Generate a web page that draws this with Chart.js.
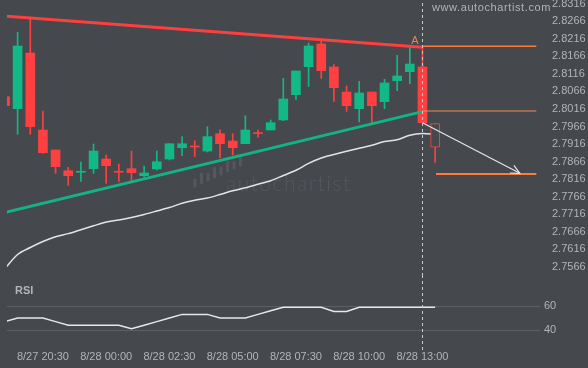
<!DOCTYPE html>
<html>
<head>
<meta charset="utf-8">
<script src="https://cdn.jsdelivr.net/npm/chart.js@4.4.1/dist/chart.umd.min.js"></script>
<style>
  html, body { margin: 0; padding: 0; background: #45484d; }
  #wrap { position: relative; width: 588px; height: 368px; overflow: hidden; }
  #main { position: absolute; left: 0; top: 0; }
  #rsi { position: absolute; left: 0; top: 275px; }
</style>
</head>
<body>
<div id="wrap">
  <canvas id="main" width="588" height="275"></canvas>
  <canvas id="rsi" width="588" height="93"></canvas>
</div>
<script>
// candles, one per bar index
const opens  = [2.8051, 2.80169, 2.81755, 2.79562, 2.78992, 2.78402, 2.78357, 2.78459, 2.78735, 2.78374, 2.78459, 2.7826, 2.78451, 2.78735, 2.79057, 2.79094, 2.78963, 2.79456, 2.79248, 2.79171, 2.79476, 2.79562, 2.79847, 2.80567, 2.81365, 2.82012, 2.81357, 2.80644, 2.80169, 2.80644, 2.80368, 2.80966, 2.81223, 2.81357];
const highs  = [2.8052, 2.82345, 2.82744, 2.80103, 2.78992, 2.78499, 2.7865, 2.79163, 2.78849, 2.78593, 2.78963, 2.78536, 2.78963, 2.79171, 2.79371, 2.79257, 2.79656, 2.7957, 2.79456, 2.79969, 2.79562, 2.79847, 2.81035, 2.81243, 2.8204, 2.82089, 2.81422, 2.80815, 2.80949, 2.80644, 2.81006, 2.8169, 2.81935, 2.81941];
const lows   = [2.8024, 2.79439, 2.79439, 2.78892, 2.78328, 2.77986, 2.781, 2.78328, 2.78043, 2.781, 2.78117, 2.78231, 2.78422, 2.78707, 2.7883, 2.78801, 2.78935, 2.78773, 2.78849, 2.79171, 2.79354, 2.79562, 2.79827, 2.80431, 2.80801, 2.81029, 2.80379, 2.80094, 2.7979, 2.7977, 2.80169, 2.80681, 2.80881, 2.7977];
const closes = [2.80254, 2.81955, 2.79656, 2.78915, 2.78516, 2.7826, 2.78374, 2.78963, 2.78545, 2.78357, 2.78345, 2.78337, 2.78659, 2.79171, 2.79171, 2.79077, 2.79371, 2.79171, 2.79057, 2.79562, 2.79459, 2.7977, 2.80445, 2.81243, 2.81955, 2.81251, 2.80767, 2.80254, 2.80616, 2.80254, 2.80901, 2.811, 2.81442, 2.7977];

// forecast candle [open, high, low, close]
const forecast = [2.79741, 2.79741, 2.78636, 2.79069];

const movingAvg = [2.75616, 2.76015, 2.76214, 2.76385, 2.76522, 2.7661, 2.76721, 2.76832, 2.76941, 2.76998, 2.77072, 2.77157, 2.77254, 2.77354, 2.77473, 2.77559, 2.77624, 2.77724, 2.7783, 2.77915, 2.78015, 2.78117, 2.78265, 2.78414, 2.7861, 2.78764, 2.78864, 2.78955, 2.7904, 2.79129, 2.79234, 2.79283, 2.79411, 2.79462, 2.79434];

const rsiValues = [47, 50, 50, 50, 47, 44, 44, 44, 44, 44, 41, 44, 47, 50, 53, 53, 53, 50, 50, 50, 53, 56, 59, 59, 59, 59, 55.5, 55.5, 59, 59, 59, 59, 59, 59, 59];

// pattern lines: [index, price]
const resistance = [[0, 2.82805], [33, 2.81918]];
const support    = [[0, 2.77211], [33, 2.80086]];
const levelTop    = [[33, 2.81946], [42, 2.81946]];
const levelBottom = [[33, 2.80103], [42, 2.80103]];
const target      = [[34.07, 2.78308], [42, 2.78308]];
const arrow       = [[33, 2.7977], [40.7, 2.78328]];
const pointA = [32.4, 2.82097];
const nowIndex = 33;

const priceTicks = [2.7566, 2.7616, 2.7666, 2.7716, 2.7766, 2.7816, 2.7866, 2.7916, 2.7966, 2.8016, 2.8066, 2.8116, 2.8166, 2.8216, 2.8266, 2.8316];
const rsiTicks = [40, 60];
const timeIndex  = [3, 8, 13, 18, 23, 28, 33];
const timeLabels = ['8/27 20:30', '8/28 00:00', '8/28 02:30', '8/28 05:00', '8/28 07:30', '8/28 10:00', '8/28 13:00'];

const bg = '#45484d';
const up = '#12b886';
const down = '#ff4040';
const textCol = '#b2b4b7';
const orange = '#ff7a3d';

Chart.defaults.font.family = '"Liberation Sans", Arial, sans-serif';
Chart.defaults.font.size = 11;

const xMin = 0.16, xMax = 42.29;
const pts = arr => arr.map(p => ({x: p[0], y: p[1]}));
const idx = opens.map((_, i) => i);
const candleCol = idx.map(i => closes[i] >= opens[i] ? up : down);

function lineSet(data, color, width, order) {
    return { type: 'line', data: pts(data), borderColor: color, borderWidth: width,
             pointRadius: 0, fill: false, clip: 0, order: order };
}

const nowLine = {
    id: 'nowLine',
    afterDatasetsDraw(chart, args, opts) {
        const ctx = chart.ctx;
        const x = Math.round(chart.scales.x.getPixelForValue(nowIndex)) + 0.5;
        ctx.save();
        ctx.strokeStyle = '#c8cacc';
        ctx.lineWidth = 1;
        ctx.setLineDash([3, 3]);
        ctx.beginPath();
        ctx.moveTo(x, opts.top);
        ctx.lineTo(x, chart.chartArea.bottom + opts.extra);
        ctx.stroke();
        ctx.restore();
    }
};

const decor = {
    id: 'decor',
    beforeDatasetsDraw(chart) {
        const ctx = chart.ctx;
        ctx.save();
        // watermark
        ctx.fillStyle = '#54575c';
        ctx.strokeStyle = '#54575c';
        ctx.lineWidth = 3;
        ctx.lineCap = 'round';
        for (let k = 0; k < 8; k++) {
            const bx = 195 + k * 6.5, by = 186 - k * 3;
            ctx.beginPath();
            ctx.moveTo(bx, by);
            ctx.lineTo(bx, by - 6 - (k % 2) * 3);
            ctx.stroke();
        }
        ctx.font = '300 21px Lato, "Open Sans", sans-serif';
        ctx.letterSpacing = '1.5px';
        ctx.textBaseline = 'alphabetic';
        ctx.fillText('autochartist', 226, 191);
        ctx.restore();
    },
    afterDatasetsDraw(chart) {
        const ctx = chart.ctx;
        const xs = chart.scales.x, ys = chart.scales.y;
        ctx.save();
        // arrow head
        const x1 = xs.getPixelForValue(arrow[0][0]), y1 = ys.getPixelForValue(arrow[0][1]);
        const x2 = xs.getPixelForValue(arrow[1][0]), y2 = ys.getPixelForValue(arrow[1][1]);
        const ang = Math.atan2(y2 - y1, x2 - x1);
        ctx.strokeStyle = '#e6e6e6';
        ctx.lineWidth = 1.2;
        ctx.beginPath();
        ctx.moveTo(x2 - 10 * Math.cos(ang - 0.45), y2 - 10 * Math.sin(ang - 0.45));
        ctx.lineTo(x2, y2);
        ctx.lineTo(x2 - 10 * Math.cos(ang + 0.45), y2 - 10 * Math.sin(ang + 0.45));
        ctx.stroke();
        // point label
        ctx.fillStyle = '#de8a56';
        ctx.font = '11px "Liberation Sans", Arial, sans-serif';
        ctx.textAlign = 'center';
        ctx.textBaseline = 'middle';
        ctx.fillText('A', xs.getPixelForValue(pointA[0]), ys.getPixelForValue(pointA[1]));
        // site
        ctx.fillStyle = textCol;
        ctx.letterSpacing = '0.6px';
        ctx.textAlign = 'left';
        ctx.fillText('www.autochartist.com', 432, 8);
        ctx.restore();
    }
};

new Chart(document.getElementById('main'), {
    type: 'bar',
    data: {
        datasets: [
            lineSet(resistance, '#ff3e3e', 3, 0),
            lineSet(support, '#14b385', 3, 0),
            lineSet(levelTop, orange, 1.5, 0),
            lineSet(levelBottom, '#ee8c5c', 1, 0),
            lineSet(target, orange, 2, 0),
            lineSet(arrow, '#e6e6e6', 1.2, 0),
            { type: 'line', data: movingAvg.map((v, i) => ({x: i, y: v})), borderColor: '#e4e4e4',
              borderWidth: 1.5, pointRadius: 0, tension: 0.3, clip: 0, order: 3 },
            { data: idx.map(i => ({x: i, y: [opens[i], closes[i]]})), backgroundColor: candleCol,
              barThickness: 9, grouped: false, minBarLength: 1, borderWidth: 0, order: 1 },
            { data: idx.map(i => ({x: i, y: [lows[i], highs[i]]})), backgroundColor: candleCol,
              barThickness: 1, grouped: false, borderWidth: 0, order: 2 },
            { data: [{x: 34, y: [forecast[0], forecast[3]]}], backgroundColor: bg, borderColor: down,
              borderWidth: 1, borderSkipped: false, barThickness: 9, grouped: false, order: 1 },
            { data: [{x: 34, y: [forecast[2], forecast[1]]}], backgroundColor: down,
              barThickness: 1, grouped: false, borderWidth: 0, order: 2 }
        ]
    },
    options: {
        responsive: false,
        animation: false,
        layout: { padding: { left: 7, top: 0, right: 0, bottom: 0 } },
        plugins: { legend: { display: false }, tooltip: { enabled: false }, nowLine: { top: 3, extra: 0 } },
        scales: {
            x: { type: 'linear', min: xMin, max: xMax, offset: false, display: false },
            y: {
                position: 'right', min: 2.75431, max: 2.83265,
                grid: { display: false }, border: { display: false },
                afterBuildTicks: s => { s.ticks = priceTicks.map(v => ({value: v})); },
                afterFit: s => { s.width = 48; s.paddingTop = 0; s.paddingBottom = 0; },
                ticks: { color: textCol, padding: 4, autoSkip: false, callback: v => v.toFixed(4) }
            }
        }
    },
    plugins: [decor, nowLine]
});

const rsiLabel = {
    id: 'rsiLabel',
    afterDraw(chart) {
        const ctx = chart.ctx;
        ctx.save();
        ctx.fillStyle = textCol;
        ctx.font = 'bold 11px "Liberation Sans", Arial, sans-serif';
        ctx.textBaseline = 'middle';
        ctx.fillText('RSI', 15, 16);
        ctx.restore();
    }
};

new Chart(document.getElementById('rsi'), {
    type: 'line',
    data: {
        datasets: [{
            data: rsiValues.map((v, i) => ({x: i, y: v})),
            borderColor: '#e8e8e8', borderWidth: 1.5, pointRadius: 0, clip: 0
        }]
    },
    options: {
        responsive: false,
        animation: false,
        layout: { padding: { left: 7, top: 10, right: 0, bottom: 0 } },
        plugins: { legend: { display: false }, tooltip: { enabled: false }, nowLine: { top: 0, extra: 5 } },
        scales: {
            x: {
                type: 'linear', min: xMin, max: xMax, offset: false,
                grid: { display: false, drawTicks: false }, border: { display: false },
                afterBuildTicks: s => { s.ticks = timeIndex.map(v => ({value: v})); },
                afterFit: s => { s.height = 23; s.paddingLeft = 0; s.paddingRight = 0; },
                ticks: { color: textCol, padding: 5, maxRotation: 0, autoSkip: false,
                         callback: v => timeLabels[timeIndex.indexOf(v)] }
            },
            y: {
                position: 'right', min: 27.5, max: 77.5,
                grid: { color: '#5c6064', drawTicks: false }, border: { display: false },
                afterBuildTicks: s => { s.ticks = rsiTicks.map(v => ({value: v})); },
                afterFit: s => { s.width = 48; s.paddingTop = 0; s.paddingBottom = 0; },
                ticks: { color: textCol, padding: 4 }
            }
        }
    },
    plugins: [rsiLabel, nowLine]
});
</script>
</body>
</html>
